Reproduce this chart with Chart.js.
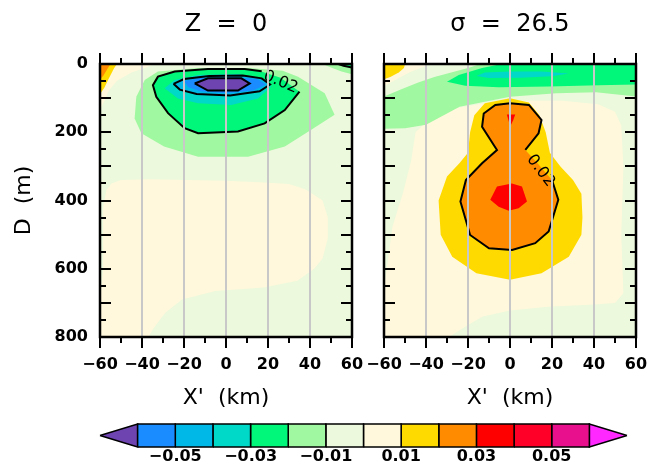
<!DOCTYPE html>
<html>
<head>
<meta charset="utf-8">
<script src="https://cdn.jsdelivr.net/npm/chart.js@4.4.1/dist/chart.umd.min.js"></script>
<style>
  html, body { margin: 0; padding: 0; background: #fff; overflow: hidden; }
  body { width: 659px; height: 466px; position: relative; }
  canvas { position: absolute; }
  #leftPanel { left: 0; top: 0; }
  #rightPanel { left: 284px; top: 0; }
  #colorBar { left: 0; top: 400px; }
</style>
</head>
<body>
<canvas id="leftPanel" width="452" height="420"></canvas>
<canvas id="rightPanel" width="452" height="420"></canvas>
<canvas id="colorBar" width="659" height="66"></canvas>
<script>
// contour levels and fill colours (one colour per interval)
const levels = [-0.06, -0.05, -0.04, -0.03, -0.02, -0.01, 0, 0.01, 0.02, 0.03, 0.04, 0.05, 0.06];
const levelColors = ["#1a8cff", "#00b8e8", "#00d8c8", "#00f77a", "#a0f8a0", "#ecf9dc",
                     "#fff8dc", "#ffda00", "#ff8c00", "#ff0000", "#ff0028", "#e8108c"];
const lowColor = "#6e44b0";
const highColor = "#ff28ff";
const barTicks = [-0.05, -0.03, -0.01, 0.01, 0.03, 0.05];
const xTicks = [-60, -40, -20, 0, 20, 40, 60];
const depthTicks = [0, 200, 400, 600, 800];
const panelTitles = ["Z  =  0", "\u03c3  =  26.5"];

// contour regions, [x km, depth m], Z = 0 panel
const zBackground = [[-60, 0], [60, 0], [60, 800], [-60, 800]];
const zCornerCream = [[-60, 0], [-34, 0], [-38, 10], [-45, 25], [-52, 50], [-56, 80], [-58, 110], [-60, 135]];
const zCornerYellow = [[-60, 0], [-52, 0], [-53.5, 15], [-56, 45], [-58, 70], [-60, 88]];
const zCornerOrange = [[-60, 0], [-55, 0], [-56.5, 15], [-58.5, 35], [-60, 45]];
const zDeepCream = [[-54.6, 350], [-50, 340], [-37, 338], [0, 342], [18, 347], [30, 352], [38, 368], [46, 400],
  [48.5, 450], [48.5, 510], [46, 570], [42, 600], [34, 635], [18, 655], [-5, 665], [-21, 690], [-29, 730],
  [-34, 770], [-37, 800], [-60, 800], [-60, 700], [-58.5, 600], [-58.5, 420], [-57, 370]];
const zEdgePale = [[46, 0], [60, 0], [60, 30], [55, 22], [50, 10]];
const zEdgeGreen = [[53.5, 0], [60, 0], [60, 10], [56, 5]];
const zBlobPale = [[-43.5, 160], [-42.7, 96], [-38.7, 47], [-32.4, 22], [-13.3, 12], [11, 12], [27, 20], [34.3, 37],
  [47, 86], [51.7, 149], [40.6, 193], [28, 242], [10.5, 272], [-13.3, 272], [-29.5, 242], [-40.3, 203]];
const zBlobGreen = [[-34.8, 62], [-32.4, 37], [-24.4, 22], [-8.6, 15], [8.9, 15], [16.8, 22], [26, 40], [35, 81],
  [28, 135], [18.4, 174], [5.7, 198], [-13.3, 203], [-19.7, 188], [-27.6, 144], [-33.2, 96]];
const zBlobCyan = [[-29.2, 71], [-24.4, 47], [-13.3, 32], [5.7, 29], [16.8, 42], [21.6, 66], [15.2, 101],
  [2.5, 120], [-13.3, 115], [-22.9, 101]];
const zBlobSky = [[-25, 58], [-20, 44], [-8, 35], [8, 34], [17, 42], [21, 60], [16, 80], [2, 92], [-14, 88], [-22, 75]];
const zBlobBlue = [[-20, 50], [-12, 40], [3, 38], [15, 44], [19, 60], [13, 78], [0, 86], [-12, 80], [-18, 68]];
const zBlobCore = [[-14.9, 57], [-8.6, 42], [7.3, 42], [11.3, 57], [5.7, 78], [-8.6, 78]];
const zLineOuter = [[35, 81], [28, 135], [18.4, 174], [5.7, 198], [-13.3, 203], [-19.7, 188], [-27.6, 144],
  [-33.2, 96], [-34.8, 62], [-32.4, 37], [-24.4, 22], [-8.6, 15], [8.9, 15], [17, 21]];
const zLineEdge = [[53.5, 0], [56, 5], [60, 10]];

// contour regions, sigma = 26.5 panel
const sBackground = [[-60, 0], [60, 0], [60, 800], [-60, 800]];
const sCream = [[-45, 200], [-38, 160], [-26, 130], [-12, 115], [5, 108], [25, 108], [42, 118], [50, 140], [53, 180],
  [54, 300], [53, 500], [54, 672], [50, 700], [40, 705], [18, 711], [0, 722], [-13, 740], [-20, 765], [-29, 800],
  [-60, 800], [-60, 660], [-58, 570], [-56, 477], [-51, 379], [-47, 281]];
const sCornerCream = [[-60, 0], [-38, 0], [-42, 10], [-48, 25], [-54, 45], [-60, 65]];
const sCornerYellow = [[-60, 0], [-50, 0], [-50.5, 12], [-53, 25], [-57, 38], [-60, 45]];
const sYellow = [[0, 100], [9, 113], [14, 150], [17, 200], [19, 260], [24, 300], [30, 340], [34, 380], [34.5, 450],
  [34, 500], [28, 565], [15, 613], [0, 632], [-16, 613], [-27.5, 565], [-33, 500], [-34, 400], [-30, 330],
  [-24, 290], [-20, 260], [-19, 200], [-17, 150], [-12, 115]];
const sOrange = [[0, 115], [9, 120], [15, 164], [13.6, 203], [7.3, 252], [13, 290], [20, 340], [23, 398],
  [18.4, 491], [12, 525], [1, 545], [-10, 540], [-19, 501], [-23.6, 403], [-21, 340], [-13.3, 291], [-6.2, 252],
  [-13.3, 184], [-12.5, 145], [-7, 120]];
const sRedTop = [[-1.5, 148], [2.5, 148], [1.5, 165], [0.5, 178], [-0.5, 170]];
const sRedCore = [[-9.4, 398], [-6.2, 359], [0.9, 350], [5.7, 359], [8.1, 403], [4.1, 423], [-0.6, 430], [-5.4, 418]];
const sBandPale = [[-60, 95], [-52, 75], [-44, 55], [-36, 38], [-28, 25], [-20, 12], [-14, 0], [60, 0], [60, 95],
  [41, 83], [22, 86], [0, 96], [-24, 125], [-40, 178], [-50, 188], [-60, 190]];
const sBandGreen = [[-30, 52], [-24.4, 32], [-13.3, 12], [-4, 0], [60, 0], [60, 60], [42, 62], [18.4, 66],
  [-5.4, 68], [-21.3, 64]];
const sBandCyan = [[-16, 35], [-12, 25], [0, 22], [15, 22], [28, 28], [20, 36], [5, 40], [-10, 41]];
const sLine = [[20, 340], [23, 398], [18.4, 491], [12, 525], [1, 545], [-10, 540], [-19, 501], [-23.6, 403],
  [-21, 340], [-13.3, 291], [-6.2, 252], [-13.3, 184], [-12.5, 145], [-7, 120], [0, 115], [9, 120], [15, 164],
  [13.6, 203], [7.3, 252]];

Chart.defaults.font.family = "DejaVu Sans";
Chart.defaults.color = "#000";

const minus = (s) => s.replace("-", "\u2212");

function polygonSet(points, color) {
  return {
    data: points.concat([points[0]]).map((p) => ({ x: p[0], y: p[1] })),
    fill: "shape",
    backgroundColor: color,
    borderColor: "transparent",
    borderWidth: 0,
    pointRadius: 0,
  };
}

function lineSet(points, closed) {
  const pts = closed ? points.concat([points[0]]) : points;
  return {
    data: pts.map((p) => ({ x: p[0], y: p[1] })),
    fill: false,
    borderColor: "#000",
    borderWidth: 2,
    pointRadius: 0,
  };
}

// frame with outward x ticks and inward depth ticks
const frameTicks = {
  id: "frameTicks",
  afterDraw(chart) {
    const { ctx, chartArea: a, scales } = chart;
    ctx.save();
    ctx.strokeStyle = "#000";
    ctx.lineWidth = 2;
    ctx.beginPath();
    for (let v = -60; v <= 60; v += 10) {
      const px = Math.round(scales.x.getPixelForValue(v));
      const len = v % 20 === 0 ? 11 : 6;
      ctx.moveTo(px, a.top);
      ctx.lineTo(px, a.top - len);
      ctx.moveTo(px, a.bottom);
      ctx.lineTo(px, a.bottom + len);
    }
    for (let d = 0; d <= 800; d += 50) {
      const py = Math.round(scales.y.getPixelForValue(d));
      const len = d % 100 === 0 ? 11 : 6;
      ctx.moveTo(a.left, py);
      ctx.lineTo(a.left + len, py);
      ctx.moveTo(a.right, py);
      ctx.lineTo(a.right - len, py);
    }
    ctx.stroke();
    ctx.lineWidth = 2.5;
    ctx.strokeRect(a.left, a.top, a.right - a.left, a.bottom - a.top);
    ctx.restore();
  },
};

const panelTitle = {
  id: "panelTitle",
  afterDraw(chart, args, opts) {
    const { ctx, chartArea: a } = chart;
    ctx.save();
    ctx.font = "24px 'DejaVu Sans'";
    ctx.fillStyle = "#000";
    ctx.textAlign = "center";
    ctx.textBaseline = "middle";
    ctx.fillText(opts.text, (a.left + a.right) / 2, 25);
    ctx.restore();
  },
};

const contourText = {
  id: "contourText",
  afterDatasetsDraw(chart, args, opts) {
    const { ctx, scales } = chart;
    (opts.labels || []).forEach((l) => {
      ctx.save();
      ctx.translate(scales.x.getPixelForValue(l.x), scales.y.getPixelForValue(l.y));
      ctx.rotate((l.angle * Math.PI) / 180);
      ctx.font = "16px 'DejaVu Sans'";
      ctx.fillStyle = "#000";
      ctx.textAlign = "center";
      ctx.textBaseline = "middle";
      ctx.fillText(l.text, 0, 0);
      ctx.restore();
    });
  },
};

function panelConfig(layers, lines, labels, title, showDepth) {
  const datasets = [];
  layers.forEach(([pts, color]) => datasets.push(polygonSet(pts, color)));
  lines.forEach(([pts, closed]) => datasets.push(lineSet(pts, closed)));
  // first dataset is drawn on top, so put the deepest layer last
  datasets.reverse();
  return {
    type: "line",
    data: { datasets },
    options: {
      responsive: false,
      animation: false,
      events: [],
      layout: { padding: { left: 0, right: 100, top: 64, bottom: 0 } },
      scales: {
        x: {
          type: "linear",
          min: -60,
          max: 60,
          afterBuildTicks: (s) => { s.ticks = xTicks.map((v) => ({ value: v })); },
          afterFit: (s) => { s.height = 83; },
          ticks: {
            autoSkip: false,
            maxRotation: 0,
            padding: 18,
            font: { size: 16, weight: "bold" },
            callback: (v) => minus(String(v)),
          },
          grid: { color: "#c8c8c8", lineWidth: 2, drawTicks: false, z: 1 },
          border: { display: false },
          title: {
            display: true,
            text: "X'  (km)",
            font: { size: 22 },
            padding: { top: 0, bottom: 9 },
          },
        },
        y: {
          type: "linear",
          reverse: true,
          min: 0,
          max: 800,
          afterBuildTicks: (s) => { s.ticks = depthTicks.map((v) => ({ value: v })); },
          afterFit: (s) => { s.width = 100; },
          ticks: {
            display: showDepth,
            padding: 12,
            font: { size: 16, weight: "bold" },
          },
          grid: { display: false, drawTicks: false },
          border: { display: false },
          title: {
            display: showDepth,
            text: "D  (m)",
            font: { size: 22 },
            padding: { top: 11, bottom: 0 },
          },
        },
      },
      plugins: {
        legend: { display: false },
        tooltip: { enabled: false },
        panelTitle: { text: title },
        contourText: { labels },
      },
    },
    plugins: [frameTicks, panelTitle, contourText],
  };
}

const c = levelColors;

new Chart(document.getElementById("leftPanel"), panelConfig(
  [
    [zBackground, c[5]],
    [zDeepCream, c[6]],
    [zCornerCream, c[6]],
    [zCornerYellow, c[7]],
    [zCornerOrange, c[8]],
    [zEdgePale, c[4]],
    [zEdgeGreen, c[3]],
    [zBlobPale, c[4]],
    [zBlobGreen, c[3]],
    [zBlobCyan, c[2]],
    [zBlobSky, c[1]],
    [zBlobBlue, c[0]],
    [zBlobCore, lowColor],
  ],
  [
    [zLineOuter, false],
    [zBlobSky, true],
    [zBlobCore, true],
    [zLineEdge, false],
  ],
  [{ x: 26, y: 53, text: "0.02", angle: 23 }],
  panelTitles[0],
  true
));

new Chart(document.getElementById("rightPanel"), panelConfig(
  [
    [sBackground, c[5]],
    [sCream, c[6]],
    [sCornerCream, c[6]],
    [sCornerYellow, c[7]],
    [sYellow, c[7]],
    [sOrange, c[8]],
    [sRedTop, c[9]],
    [sRedCore, c[9]],
    [sBandPale, c[4]],
    [sBandGreen, c[3]],
    [sBandCyan, c[2]],
  ],
  [[sLine, false]],
  [{ x: 14.6, y: 313, text: "0.02", angle: 53 }],
  panelTitles[1],
  false
));

// colour bar: one box per interval, triangles for the open ends
const barSets = [];
for (let i = 0; i < levelColors.length; i++) {
  barSets.push([[[levels[i], 0], [levels[i + 1], 0], [levels[i + 1], 1], [levels[i], 1]], levelColors[i]]);
}
barSets.push([[[-0.07, 0.5], [-0.06, 1], [-0.06, 0]], lowColor]);
barSets.push([[[0.07, 0.5], [0.06, 0], [0.06, 1]], highColor]);

new Chart(document.getElementById("colorBar"), {
  type: "line",
  data: {
    datasets: barSets.map(([pts, color]) => ({
      ...polygonSet(pts, color),
      borderColor: "#000",
      borderWidth: 1.5,
      clip: false,
    })),
  },
  options: {
    responsive: false,
    animation: false,
    events: [],
    layout: { padding: { left: 100, right: 32, top: 24, bottom: 0 } },
    scales: {
      x: {
        type: "linear",
        min: -0.07,
        max: 0.07,
        afterBuildTicks: (s) => { s.ticks = barTicks.map((v) => ({ value: v })); },
        afterFit: (s) => { s.height = 19; },
        ticks: {
          autoSkip: false,
          maxRotation: 0,
          padding: 0,
          font: { size: 16, weight: "bold" },
          callback: (v) => minus(v.toFixed(2)),
        },
        grid: { display: false, drawTicks: false },
        border: { display: false },
      },
      y: { type: "linear", min: 0, max: 1, display: false },
    },
    plugins: { legend: { display: false }, tooltip: { enabled: false } },
  },
});
</script>
</body>
</html>
